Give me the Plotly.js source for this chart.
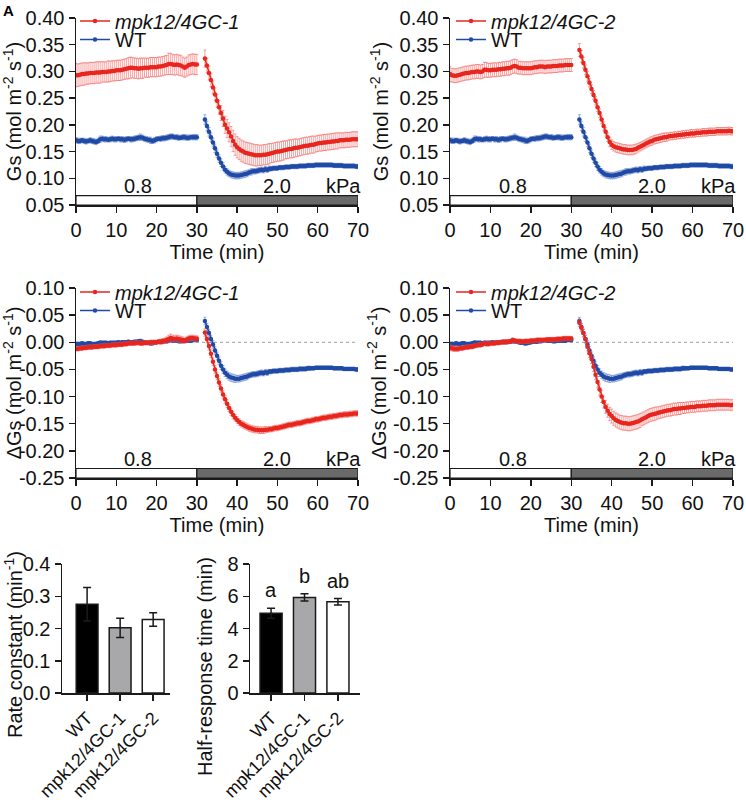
<!DOCTYPE html>
<html><head><meta charset="utf-8">
<script src="https://cdn.plot.ly/plotly-3.0.1.min.js"></script>
<style>html,body{margin:0;padding:0;background:#fff}#chart{width:746px;height:805px}</style>
</head><body><div id="chart"></div>
<script>
// ---------- sampling (min) ----------
const phase1Start = 0, phase2Start = 32, step = 0.5;
const vpdPhases = [ {label:'0.8', start:0, end:30}, {label:'2.0', start:30, end:70} ];
const vpdUnit = 'kPa';
const timeTicks = [0,10,20,30,40,50,60,70];
const gsTickVals = [0.05,0.10,0.15,0.20,0.25,0.30,0.35,0.40];
const gsTickText = ['0.05','0.10','0.15','0.20','0.25','0.30','0.35','0.40'];
const dgsTickVals = [-0.25,-0.20,-0.15,-0.10,-0.05,0.00,0.05,0.10];
const dgsTickText = ['-0.25','-0.20','-0.15','-0.10','-0.05','0.00','0.05','0.10'];

// ---------- WT Gs ----------
const wtGs1 = [0.171,0.170,0.170,0.171,0.170,0.169,0.170,0.171,0.170,0.169,
0.168,0.170,0.173,0.174,0.173,0.173,0.172,0.173,0.174,0.173,
0.173,0.174,0.173,0.173,0.172,0.173,0.174,0.173,0.173,0.174,
0.175,0.176,0.177,0.176,0.174,0.173,0.172,0.171,0.170,0.171,
0.173,0.174,0.174,0.175,0.175,0.176,0.177,0.178,0.178,0.177,
0.177,0.176,0.176,0.177,0.177,0.176,0.176,0.177,0.177,0.177,
0.177];
const wtGsErr1 = [0.005,0.005,0.005,0.004,0.005,0.005,0.004,0.005,0.005,0.005,
0.005,0.005,0.006,0.005,0.005,0.005,0.004,0.005,0.005,0.005,
0.005,0.004,0.005,0.005,0.005,0.005,0.004,0.005,0.005,0.005,
0.005,0.005,0.006,0.005,0.005,0.005,0.005,0.006,0.005,0.005,
0.005,0.004,0.005,0.005,0.005,0.005,0.005,0.005,0.005,0.004,
0.005,0.005,0.004,0.005,0.005,0.005,0.005,0.004,0.005,0.005,
0.005];
const wtGs2 = [0.210,0.198,0.187,0.177,0.167,0.156,0.146,0.137,0.129,0.122,
0.116,0.112,0.109,0.107,0.106,0.105,0.105,0.105,0.106,0.107,
0.108,0.109,0.111,0.112,0.113,0.113,0.114,0.115,0.116,0.115,
0.117,0.116,0.118,0.118,0.119,0.119,0.119,0.120,0.120,0.120,
0.121,0.121,0.121,0.122,0.122,0.122,0.122,0.123,0.123,0.123,
0.123,0.124,0.124,0.124,0.124,0.125,0.125,0.125,0.125,0.125,
0.125,0.125,0.125,0.125,0.124,0.124,0.124,0.124,0.124,0.123,
0.123,0.123,0.123,0.123,0.123,0.122,0.122];
const wtGsErr2 = [0.009,0.009,0.008,0.008,0.008,0.008,0.007,0.007,0.007,0.007,
0.006,0.006,0.006,0.006,0.006,0.006,0.006,0.006,0.006,0.006,
0.006,0.006,0.005,0.006,0.005,0.005,0.005,0.005,0.005,0.005,
0.005,0.005,0.005,0.004,0.004,0.004,0.004,0.004,0.004,0.004,
0.004,0.004,0.004,0.004,0.004,0.004,0.004,0.004,0.004,0.004,
0.004,0.004,0.004,0.004,0.004,0.004,0.004,0.004,0.004,0.004,
0.004,0.004,0.004,0.004,0.004,0.004,0.004,0.004,0.004,0.004,
0.004,0.004,0.004,0.004,0.004,0.004,0.004];

// ---------- mpk12/4GC-1 Gs ----------
const gc1Gs1 = [0.293,0.293,0.294,0.295,0.295,0.296,0.296,0.297,0.297,0.297,
0.298,0.298,0.298,0.299,0.299,0.299,0.300,0.300,0.301,0.301,
0.302,0.302,0.302,0.303,0.304,0.305,0.306,0.307,0.307,0.306,
0.306,0.305,0.306,0.306,0.307,0.307,0.307,0.308,0.308,0.308,
0.308,0.309,0.309,0.310,0.311,0.312,0.314,0.314,0.313,0.312,
0.313,0.312,0.311,0.309,0.307,0.309,0.312,0.313,0.314,0.313,
0.313];
const gc1GsErr1 = [0.022,0.021,0.021,0.021,0.021,0.020,0.020,0.020,0.020,0.020,
0.020,0.020,0.020,0.019,0.019,0.019,0.020,0.019,0.019,0.019,
0.019,0.019,0.019,0.019,0.019,0.019,0.020,0.020,0.019,0.019,
0.019,0.019,0.019,0.019,0.018,0.018,0.018,0.018,0.018,0.018,
0.018,0.018,0.018,0.018,0.018,0.018,0.020,0.020,0.019,0.019,
0.019,0.019,0.019,0.018,0.018,0.018,0.019,0.019,0.019,0.019,
0.019];
const gc1Gs2 = [0.324,0.311,0.297,0.284,0.270,0.257,0.245,0.233,0.222,0.212,
0.200,0.193,0.186,0.178,0.170,0.163,0.158,0.155,0.152,0.150,
0.148,0.147,0.146,0.145,0.144,0.143,0.143,0.143,0.143,0.144,
0.144,0.145,0.146,0.147,0.148,0.149,0.150,0.150,0.151,0.152,
0.153,0.154,0.155,0.155,0.156,0.157,0.157,0.158,0.159,0.160,
0.161,0.161,0.162,0.163,0.163,0.164,0.165,0.166,0.166,0.167,
0.167,0.168,0.168,0.169,0.169,0.170,0.170,0.171,0.171,0.171,
0.172,0.172,0.172,0.173,0.173,0.173,0.173];
const gc1GsErr2 = [0.016,0.014,0.013,0.013,0.012,0.012,0.012,0.013,0.014,0.015,
0.016,0.017,0.018,0.019,0.020,0.020,0.020,0.020,0.020,0.020,
0.020,0.020,0.020,0.020,0.020,0.020,0.020,0.019,0.019,0.019,
0.019,0.019,0.019,0.018,0.018,0.018,0.018,0.018,0.018,0.018,
0.017,0.017,0.017,0.017,0.017,0.017,0.016,0.016,0.016,0.016,
0.016,0.016,0.016,0.016,0.016,0.015,0.015,0.015,0.015,0.015,
0.015,0.015,0.015,0.015,0.015,0.015,0.015,0.014,0.014,0.014,
0.014,0.014,0.014,0.014,0.014,0.014,0.014];

// ---------- mpk12/4GC-2 Gs ----------
const gc2Gs1 = [0.295,0.293,0.292,0.292,0.293,0.294,0.295,0.296,0.297,0.297,
0.298,0.299,0.299,0.300,0.300,0.299,0.300,0.303,0.303,0.302,
0.302,0.303,0.303,0.303,0.304,0.304,0.305,0.305,0.306,0.306,
0.307,0.309,0.310,0.309,0.307,0.307,0.306,0.306,0.306,0.306,
0.306,0.307,0.308,0.308,0.309,0.309,0.309,0.308,0.309,0.309,
0.309,0.310,0.310,0.310,0.311,0.311,0.311,0.312,0.312,0.312,
0.312];
const gc2GsErr1 = [0.014,0.013,0.013,0.013,0.013,0.013,0.013,0.013,0.013,0.013,
0.013,0.013,0.013,0.013,0.013,0.013,0.013,0.014,0.014,0.013,
0.013,0.013,0.013,0.013,0.013,0.013,0.013,0.013,0.013,0.013,
0.013,0.013,0.013,0.013,0.012,0.012,0.012,0.012,0.012,0.012,
0.012,0.012,0.012,0.012,0.012,0.012,0.012,0.012,0.012,0.012,
0.012,0.012,0.012,0.012,0.012,0.012,0.012,0.012,0.012,0.012,
0.012];
const gc2Gs2 = [0.340,0.328,0.316,0.303,0.291,0.279,0.267,0.256,0.245,0.233,
0.222,0.210,0.198,0.187,0.177,0.168,0.163,0.160,0.158,0.157,
0.156,0.155,0.154,0.154,0.153,0.153,0.153,0.154,0.155,0.157,
0.159,0.161,0.163,0.165,0.167,0.169,0.170,0.172,0.173,0.174,
0.175,0.176,0.177,0.177,0.178,0.179,0.179,0.180,0.180,0.181,
0.181,0.182,0.182,0.183,0.183,0.184,0.184,0.184,0.185,0.185,
0.185,0.186,0.186,0.186,0.187,0.187,0.187,0.187,0.188,0.188,
0.188,0.188,0.188,0.188,0.189,0.188,0.188];
const gc2GsErr2 = [0.012,0.011,0.010,0.009,0.009,0.008,0.008,0.008,0.008,0.008,
0.008,0.008,0.008,0.008,0.008,0.009,0.009,0.009,0.009,0.009,
0.009,0.009,0.009,0.009,0.009,0.009,0.009,0.009,0.009,0.008,
0.008,0.008,0.008,0.008,0.008,0.008,0.008,0.008,0.008,0.008,
0.008,0.008,0.008,0.008,0.007,0.007,0.007,0.007,0.007,0.007,
0.007,0.007,0.007,0.007,0.007,0.007,0.007,0.007,0.007,0.007,
0.007,0.007,0.007,0.007,0.007,0.007,0.007,0.007,0.007,0.007,
0.007,0.007,0.007,0.007,0.007,0.007,0.007];

// ---------- WT ΔGs ----------
const wtDGs1 = [-0.003,-0.003,-0.003,-0.002,-0.003,-0.003,-0.002,-0.002,-0.003,-0.003,
-0.003,-0.002,-0.001,-0.001,-0.001,-0.001,-0.002,-0.001,-0.001,-0.001,
-0.001,0.000,-0.001,0.000,0.000,0.000,0.001,0.000,0.000,0.001,
0.001,0.002,0.002,0.001,0.000,-0.001,-0.001,-0.002,-0.002,-0.001,
0.000,0.001,0.001,0.001,0.002,0.002,0.003,0.004,0.003,0.003,
0.003,0.002,0.002,0.003,0.003,0.003,0.003,0.003,0.004,0.004,
0.004];
const wtDGsErr1 = [0.003,0.003,0.003,0.003,0.003,0.003,0.003,0.003,0.003,0.003,
0.003,0.003,0.004,0.003,0.003,0.003,0.003,0.003,0.003,0.003,
0.003,0.003,0.003,0.003,0.003,0.003,0.003,0.003,0.003,0.003,
0.003,0.003,0.004,0.003,0.003,0.003,0.003,0.004,0.003,0.003,
0.003,0.003,0.003,0.003,0.003,0.003,0.003,0.003,0.003,0.003,
0.003,0.003,0.003,0.003,0.003,0.003,0.003,0.003,0.003,0.003,
0.003];
const wtDGs2 = [0.039,0.028,0.017,0.006,-0.004,-0.015,-0.025,-0.034,-0.043,-0.050,
-0.056,-0.060,-0.063,-0.065,-0.066,-0.067,-0.067,-0.067,-0.066,-0.065,
-0.064,-0.063,-0.061,-0.060,-0.059,-0.059,-0.058,-0.057,-0.056,-0.057,
-0.055,-0.056,-0.054,-0.054,-0.053,-0.053,-0.053,-0.052,-0.052,-0.052,
-0.051,-0.051,-0.051,-0.050,-0.050,-0.050,-0.050,-0.049,-0.049,-0.049,
-0.049,-0.048,-0.048,-0.048,-0.048,-0.047,-0.047,-0.047,-0.047,-0.047,
-0.047,-0.047,-0.047,-0.047,-0.048,-0.048,-0.048,-0.048,-0.048,-0.049,
-0.049,-0.049,-0.049,-0.049,-0.049,-0.050,-0.050];
const wtDGsErr2 = [0.007,0.007,0.007,0.007,0.007,0.007,0.007,0.007,0.007,0.007,
0.007,0.007,0.007,0.007,0.007,0.007,0.006,0.006,0.006,0.006,
0.006,0.006,0.005,0.005,0.005,0.005,0.005,0.005,0.005,0.005,
0.005,0.005,0.004,0.004,0.004,0.004,0.004,0.004,0.004,0.004,
0.004,0.004,0.004,0.004,0.004,0.004,0.004,0.004,0.004,0.004,
0.004,0.004,0.004,0.003,0.003,0.003,0.003,0.003,0.003,0.003,
0.003,0.003,0.003,0.003,0.003,0.003,0.003,0.003,0.003,0.003,
0.003,0.003,0.003,0.003,0.003,0.003,0.003];

// ---------- mpk12/4GC-1 ΔGs ----------
const gc1DGs1 = [-0.012,-0.012,-0.011,-0.011,-0.010,-0.010,-0.009,-0.009,-0.009,-0.008,
-0.008,-0.008,-0.007,-0.007,-0.007,-0.006,-0.006,-0.006,-0.005,-0.005,
-0.005,-0.004,-0.004,-0.004,-0.003,-0.003,-0.002,-0.002,-0.002,-0.002,
-0.001,-0.001,-0.002,-0.002,-0.001,-0.001,-0.001,0.000,0.000,0.000,
0.000,0.001,0.001,0.002,0.003,0.004,0.006,0.008,0.007,0.006,
0.007,0.006,0.005,0.004,0.003,0.005,0.007,0.008,0.008,0.007,
0.007];
const gc1DGsErr1 = [0.004,0.004,0.004,0.004,0.004,0.004,0.004,0.004,0.004,0.004,
0.004,0.004,0.004,0.004,0.004,0.004,0.004,0.004,0.004,0.004,
0.004,0.004,0.004,0.004,0.004,0.004,0.004,0.004,0.004,0.004,
0.004,0.004,0.004,0.004,0.004,0.004,0.004,0.004,0.004,0.004,
0.004,0.004,0.005,0.005,0.005,0.006,0.007,0.007,0.006,0.006,
0.006,0.006,0.006,0.006,0.005,0.005,0.005,0.005,0.005,0.005,
0.005];
const gc1DGs2 = [0.018,0.006,-0.007,-0.021,-0.036,-0.050,-0.062,-0.074,-0.085,-0.096,
-0.105,-0.113,-0.121,-0.128,-0.134,-0.139,-0.143,-0.147,-0.150,-0.152,
-0.154,-0.156,-0.158,-0.159,-0.160,-0.161,-0.161,-0.162,-0.162,-0.162,
-0.161,-0.161,-0.160,-0.160,-0.159,-0.158,-0.158,-0.157,-0.156,-0.155,
-0.154,-0.153,-0.152,-0.152,-0.151,-0.150,-0.149,-0.149,-0.148,-0.147,
-0.146,-0.145,-0.145,-0.144,-0.143,-0.142,-0.142,-0.141,-0.140,-0.139,
-0.139,-0.138,-0.137,-0.137,-0.136,-0.136,-0.135,-0.134,-0.134,-0.133,
-0.133,-0.133,-0.132,-0.132,-0.131,-0.131,-0.131];
const gc1DGsErr2 = [0.007,0.007,0.007,0.007,0.007,0.007,0.007,0.007,0.007,0.007,
0.007,0.007,0.007,0.007,0.007,0.006,0.006,0.006,0.006,0.006,
0.006,0.006,0.006,0.006,0.006,0.006,0.006,0.006,0.006,0.006,
0.006,0.005,0.005,0.005,0.005,0.005,0.005,0.005,0.005,0.005,
0.005,0.005,0.005,0.005,0.005,0.005,0.005,0.005,0.005,0.005,
0.005,0.005,0.005,0.005,0.005,0.005,0.005,0.005,0.005,0.005,
0.005,0.005,0.005,0.005,0.005,0.005,0.005,0.005,0.005,0.005,
0.005,0.005,0.005,0.005,0.005,0.005,0.005];

// ---------- mpk12/4GC-2 ΔGs ----------
const gc2DGs1 = [-0.010,-0.011,-0.012,-0.012,-0.012,-0.011,-0.011,-0.010,-0.009,-0.009,
-0.008,-0.008,-0.007,-0.006,-0.005,-0.005,-0.004,-0.002,-0.003,-0.003,
-0.002,-0.002,-0.002,-0.001,-0.001,0.000,0.000,0.001,0.001,0.001,
0.002,0.004,0.003,0.002,0.002,0.002,0.001,0.002,0.002,0.002,
0.003,0.003,0.003,0.004,0.004,0.004,0.004,0.004,0.005,0.005,
0.005,0.005,0.005,0.006,0.006,0.006,0.007,0.007,0.007,0.007,
0.007];
const gc2DGsErr1 = [0.005,0.005,0.005,0.005,0.005,0.004,0.004,0.004,0.004,0.004,
0.004,0.004,0.004,0.004,0.004,0.004,0.004,0.004,0.004,0.004,
0.004,0.004,0.004,0.004,0.004,0.004,0.004,0.004,0.004,0.004,
0.004,0.004,0.004,0.004,0.004,0.004,0.004,0.004,0.004,0.004,
0.004,0.004,0.004,0.004,0.004,0.004,0.004,0.004,0.004,0.004,
0.004,0.004,0.004,0.004,0.004,0.004,0.004,0.004,0.004,0.004,
0.004];
const gc2DGs2 = [0.036,0.027,0.017,0.006,-0.008,-0.020,-0.031,-0.045,-0.060,-0.073,
-0.087,-0.100,-0.110,-0.119,-0.126,-0.132,-0.136,-0.140,-0.143,-0.145,
-0.147,-0.148,-0.149,-0.149,-0.150,-0.150,-0.149,-0.148,-0.147,-0.146,
-0.144,-0.142,-0.140,-0.138,-0.136,-0.134,-0.133,-0.132,-0.131,-0.130,
-0.129,-0.128,-0.127,-0.126,-0.125,-0.125,-0.124,-0.123,-0.123,-0.122,
-0.122,-0.121,-0.121,-0.120,-0.120,-0.119,-0.119,-0.119,-0.118,-0.118,
-0.118,-0.117,-0.117,-0.117,-0.116,-0.116,-0.116,-0.116,-0.115,-0.115,
-0.115,-0.115,-0.115,-0.115,-0.115,-0.116,-0.115];
const gc2DGsErr2 = [0.007,0.007,0.007,0.007,0.008,0.008,0.008,0.009,0.009,0.010,
0.010,0.011,0.011,0.012,0.012,0.012,0.013,0.013,0.013,0.013,
0.013,0.013,0.013,0.013,0.013,0.013,0.013,0.013,0.013,0.013,
0.013,0.012,0.012,0.012,0.012,0.012,0.012,0.012,0.012,0.011,
0.011,0.011,0.011,0.011,0.011,0.011,0.011,0.011,0.011,0.011,
0.011,0.010,0.010,0.010,0.010,0.010,0.010,0.010,0.010,0.010,
0.010,0.010,0.010,0.010,0.010,0.010,0.010,0.010,0.010,0.010,
0.010,0.010,0.010,0.010,0.010,0.010,0.010];

// ---------- bar panels ----------
const genotypes = ['WT', 'mpk12/4GC-1', 'mpk12/4GC-2'];
const rateConst = [0.275, 0.202, 0.228];
const rateConstErr = [0.052, 0.030, 0.021];
const halfTime = [4.94, 5.93, 5.66];
const halfTimeErr = [0.31, 0.23, 0.20];
const halfTimeLetters = ['a', 'b', 'ab'];

// ---------- styling ----------
const FONT = "Arial, 'Liberation Sans', Helvetica, sans-serif";
const RED = '#e8261e', RED_ERR = 'rgba(240,90,85,0.55)';
const BLUE = '#1f4aa5', BLUE_ERR = 'rgba(80,115,200,0.55)';
const AX = '#1a1a1a';
const W = 746, H = 805;
const px = v => v / W, py = v => 1 - v / H;

const traces = [];
function addSeries(ax, vals1, err1, vals2, err2, color, errColor, name, legendId, rank) {
  const common = {type:'scatter', mode:'lines+markers', dx:step,
    xaxis:'x'+ax, yaxis:'y'+ax, line:{color:color, width:1.5},
    marker:{color:color, size:4.5}, name:name, legendgroup:name+ax, hoverinfo:'skip'};
  traces.push(Object.assign({}, common, {x0:phase1Start, y:vals1,
    error_y:{type:'data', array:err1, visible:true, color:errColor, thickness:1, width:1.5},
    showlegend:true, legend:legendId, legendrank:rank}));
  traces.push(Object.assign({}, common, {x0:phase2Start, y:vals2,
    error_y:{type:'data', array:err2, visible:true, color:errColor, thickness:1, width:1.5},
    showlegend:false}));
}
// panel A
addSeries('', wtGs1, wtGsErr1, wtGs2, wtGsErr2, BLUE, BLUE_ERR, 'WT', 'legend2', 2);
addSeries('', gc1Gs1, gc1GsErr1, gc1Gs2, gc1GsErr2, RED, RED_ERR, '<i>mpk12/4GC-1</i>', 'legend', 1);
// panel B
addSeries('2', wtGs1, wtGsErr1, wtGs2, wtGsErr2, BLUE, BLUE_ERR, 'WT', 'legend4', 2);
addSeries('2', gc2Gs1, gc2GsErr1, gc2Gs2, gc2GsErr2, RED, RED_ERR, '<i>mpk12/4GC-2</i>', 'legend3', 1);
// panel C
addSeries('3', wtDGs1, wtDGsErr1, wtDGs2, wtDGsErr2, BLUE, BLUE_ERR, 'WT', 'legend6', 2);
addSeries('3', gc1DGs1, gc1DGsErr1, gc1DGs2, gc1DGsErr2, RED, RED_ERR, '<i>mpk12/4GC-1</i>', 'legend5', 1);
// panel D
addSeries('4', wtDGs1, wtDGsErr1, wtDGs2, wtDGsErr2, BLUE, BLUE_ERR, 'WT', 'legend8', 2);
addSeries('4', gc2DGs1, gc2DGsErr1, gc2DGs2, gc2DGsErr2, RED, RED_ERR, '<i>mpk12/4GC-2</i>', 'legend7', 1);

const barColors = ['#000000', '#a8a8aa', '#ffffff'];
function addBars(ax, vals, errs) {
  traces.push({type:'bar', x:genotypes, y:vals, xaxis:'x'+ax, yaxis:'y'+ax, width:0.66,
    marker:{color:barColors, line:{color:AX, width:1.5}},
    error_y:{type:'data', array:errs, visible:true, color:AX, thickness:1.5, width:4},
    showlegend:false, hoverinfo:'skip'});
}
addBars('5', rateConst, rateConstErr);
addBars('6', halfTime, halfTimeErr);

const tickFont = {family:FONT, size:20, color:'#111'};
const baseAxis = {showline:true, linecolor:AX, linewidth:1.5, ticks:'outside', ticklen:6,
  tickwidth:1.5, tickcolor:AX, showgrid:false, zeroline:false, tickfont:tickFont, fixedrange:true};

const layout = {width:W, height:H, margin:{l:0, r:0, t:0, b:0}, paper_bgcolor:'#fff',
  plot_bgcolor:'rgba(0,0,0,0)', font:{family:FONT, color:'#111'}, shapes:[], annotations:[]};

const linePanels = [
  {ax:'', xd:[76,358], yd:[18,205], range:[0.05,0.40], tv:gsTickVals, tt:gsTickText, standoff:5,
   title:'Gs (mol m<sup>-2</sup> s<sup>-1</sup>)'},
  {ax:'2', xd:[450,733], yd:[18,205], range:[0.05,0.40], tv:gsTickVals, tt:gsTickText, standoff:5,
   title:'Gs (mol m<sup>-2</sup> s<sup>-1</sup>)'},
  {ax:'3', xd:[76,358], yd:[288,478], range:[-0.25,0.10], tv:dgsTickVals, tt:dgsTickText, standoff:1,
   title:'\u0394Gs (mol m<sup>-2</sup> s<sup>-1</sup>)', zero:true},
  {ax:'4', xd:[450,733], yd:[288,478], range:[-0.25,0.10], tv:dgsTickVals, tt:dgsTickText, standoff:1,
   title:'\u0394Gs (mol m<sup>-2</sup> s<sup>-1</sup>)', zero:true}
];
linePanels.forEach(p => {
  const xk = 'xaxis' + p.ax, yk = 'yaxis' + p.ax;
  const xid = 'x' + p.ax, yid = 'y' + p.ax;
  layout[xk] = Object.assign({}, baseAxis, {domain:[px(p.xd[0]), px(p.xd[1])], anchor:yid,
    range:[0,70], tickvals:timeTicks,
    title:{text:'Time (min)', font:{family:FONT, size:20, color:'#111'}, standoff:0}});
  layout[yk] = Object.assign({}, baseAxis, {domain:[py(p.yd[1]), py(p.yd[0])], anchor:xid,
    range:p.range, tickvals:p.tv, ticktext:p.tt,
    title:{text:p.title, font:{family:FONT, size:20, color:'#111'}, standoff:p.standoff}});
  const barTop = p.range[0] + (p.range[1]-p.range[0]) * 0.05;
  vpdPhases.forEach((ph, i) => {
    layout.shapes.push({type:'rect', xref:xid, yref:yid, x0:ph.start, x1:ph.end, y0:p.range[0], y1:barTop,
      fillcolor: i === 0 ? '#ffffff' : '#6a6a6a', line:{color:AX, width:1.2}, layer:'above'});
    layout.annotations.push({xref:xid, yref:yid, x:(ph.start+ph.end)/2 + (i===0?0.5:0), y:barTop, text:ph.label,
      showarrow:false, yanchor:'bottom', yshift:-3, font:{family:FONT, size:20, color:'#111'}});
  });
  layout.annotations.push({xref:xid, yref:yid, x:70, y:barTop, text:vpdUnit, showarrow:false,
    xanchor:'right', xshift:5, yanchor:'bottom', yshift:-3, font:{family:FONT, size:20, color:'#111'}});
  if (p.zero) {
    layout.shapes.push({type:'line', xref:xid, yref:yid, x0:0, x1:70, y0:0, y1:0,
      line:{color:'#b0b0b0', width:1.2, dash:'dot'}, layer:'below'});
  }
});

// legends (one entry each, to match the tight row spacing of the reference)
const legendPos = {legend:[75,21], legend2:[75,39.5], legend3:[451,21], legend4:[451,39.5],
  legend5:[75,292], legend6:[75,310.5], legend7:[451,292], legend8:[451,310.5]};
Object.keys(legendPos).forEach(k => {
  layout[k] = {x:px(legendPos[k][0]), y:py(legendPos[k][1]), xanchor:'left', yanchor:'middle',
    bgcolor:'rgba(0,0,0,0)', borderwidth:0, itemwidth:30, font:{family:FONT, size:20, color:'#111'}};
});

// bar panels
layout.xaxis5 = Object.assign({}, baseAxis, {domain:[px(62), px(170)], anchor:'y5', type:'category',
  range:[-0.76, 2.51], tickangle:-45, tickfont:{family:FONT, size:18, color:'#111'}});
layout.yaxis5 = Object.assign({}, baseAxis, {domain:[py(693), py(564)], anchor:'x5', range:[0,0.4],
  dtick:0.1, tickformat:'.1f'});
layout.xaxis6 = Object.assign({}, baseAxis, {domain:[px(250), px(360)], anchor:'y6', type:'category',
  range:[-0.63, 2.66], tickangle:-45, tickfont:{family:FONT, size:18, color:'#111'}});
layout.yaxis6 = Object.assign({}, baseAxis, {domain:[py(693), py(564)], anchor:'x6', range:[0,8],
  dtick:2});
layout.annotations.push({xref:'paper', yref:'paper', x:px(13), y:py(645), text:'Rate constant (min<sup>-1</sup>)',
  textangle:-90, showarrow:false, xanchor:'center', yanchor:'middle', font:{family:FONT, size:20, color:'#111'}});
layout.annotations.push({xref:'paper', yref:'paper', x:px(205), y:py(667), text:'Half-response time (min)',
  textangle:-90, showarrow:false, xanchor:'center', yanchor:'middle', font:{family:FONT, size:20, color:'#111'}});
genotypes.forEach((g, i) => {
  layout.annotations.push({xref:'x6', yref:'y6', x:g, y:halfTime[i] + halfTimeErr[i], text:halfTimeLetters[i],
    showarrow:false, yanchor:'bottom', yshift:5, font:{family:FONT, size:20, color:'#111'}});
});
// panel letter
layout.annotations.push({xref:'paper', yref:'paper', x:0, y:1, xanchor:'left', yanchor:'top', text:'<b>A</b>',
  showarrow:false, font:{family:FONT, size:15, color:'#000'}, xshift:1});

Plotly.newPlot('chart', traces, layout, {staticPlot:true, displayModeBar:false});
</script></body></html>
